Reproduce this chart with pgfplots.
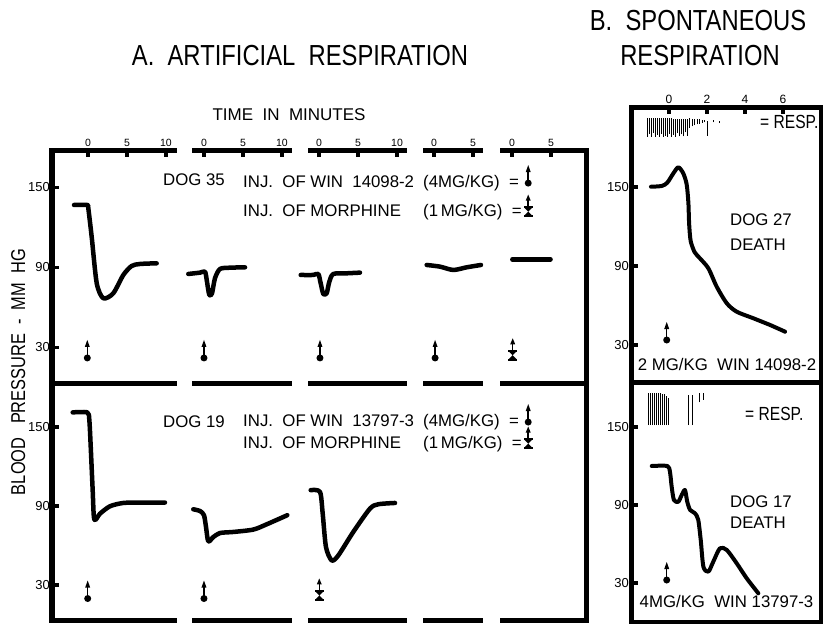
\documentclass[border=0pt]{standalone}
\usepackage{fontspec}
\setmainfont{Liberation Sans}
\newfontface\narrowfont[FakeStretch=0.82]{Liberation Sans}
\usepackage{pgfplots}
\pgfplotsset{compat=1.18}

\newcommand\bodyfont{\fontsize{16.8bp}{20bp}\selectfont}
\newcommand\titlefont{\fontsize{29bp}{32bp}\narrowfont}

% injection of WIN compound: dot with arrow
\pgfdeclareplotmark{inj}{%
  \pgfpathcircle{\pgfpointorigin}{3.5bp}\pgfusepathqfill
  \pgfsetlinewidth{1.5bp}%
  \pgfpathmoveto{\pgfpoint{0bp}{2bp}}\pgfpathlineto{\pgfpoint{0bp}{12bp}}\pgfusepathqstroke
  \pgfpathmoveto{\pgfpoint{-2.5bp}{11bp}}\pgfpathlineto{\pgfpoint{0bp}{18bp}}%
  \pgfpathlineto{\pgfpoint{2.5bp}{11bp}}\pgfpathclose\pgfusepathqfill
}
% injection of morphine: hourglass with arrow
\pgfdeclareplotmark{morph}{%
  \pgfpathmoveto{\pgfpoint{-4bp}{-4bp}}\pgfpathlineto{\pgfpoint{4bp}{-4bp}}%
  \pgfpathlineto{\pgfpoint{-4bp}{4bp}}\pgfpathlineto{\pgfpoint{4bp}{4bp}}\pgfpathclose\pgfusepathqfill
  \pgfpathrectangle{\pgfpoint{-4.5bp}{-5.5bp}}{\pgfpoint{9bp}{2bp}}\pgfusepathqfill
  \pgfpathrectangle{\pgfpoint{-4.5bp}{3.5bp}}{\pgfpoint{9bp}{2bp}}\pgfusepathqfill
  \pgfsetlinewidth{1.5bp}%
  \pgfpathmoveto{\pgfpoint{0bp}{5bp}}\pgfpathlineto{\pgfpoint{0bp}{12bp}}\pgfusepathqstroke
  \pgfpathmoveto{\pgfpoint{-2.5bp}{11bp}}\pgfpathlineto{\pgfpoint{0bp}{17bp}}%
  \pgfpathlineto{\pgfpoint{2.5bp}{11bp}}\pgfpathclose\pgfusepathqfill
}

\pgfplotsset{
  panel/.style={scale only axis, clip=false, anchor=south west,
    tick align=inside, major tick length=7bp,
    every tick/.style={black, line width=3.5bp},
    ticklabel style={font=\fontsize{13bp}{13bp}\selectfont},
    ytick={30,90,150}, yticklabels={30,90,150}, ytick pos=left,
    yticklabel style={inner sep=1bp, xshift=-1bp},
    xtick pos=right, xticklabel pos=right,
    xticklabel style={inner sep=1bp, yshift=2bp}},
  frame/.style={black, line width=5bp, line cap=rect, unbounded coords=jump, forget plot},
  bp/.style={black, line width=4.5bp, smooth, tension=0.45, line cap=round, line join=round, forget plot},
  resp/.style={black, line width=1bp, unbounded coords=jump, forget plot},
  injleg/.style={legend plot pos=right, legend cell align=left,
    legend style={draw=none, fill=none, anchor=north west, inner sep=0pt,
      font=\bodyfont, nodes={inner sep=2bp, text height=12bp, text depth=3bp}}},
}

\begin{document}
\begin{tikzpicture}[every node/.append style={inner sep=0pt}]
\useasboundingbox (0,0) rectangle (823bp,-624bp);

% ---------- A, top: dog 35 ----------
\begin{axis}[panel, injleg, at={(52bp,-383bp)}, width=534bp, height=233bp,
  xmin=-4.615, xmax=63.846, ymin=3.2, ymax=178,
  axis line style={draw=none},
  xtick={0,5,10,14.87,19.87,24.87,29.62,34.62,39.62,44.36,49.36,54.36,59.36},
  xticklabels={0,5,10,0,5,10,0,5,10,0,5,0,5},
  xticklabel style={font=\fontsize{10.5bp}{10.5bp}\selectfont},
  legend style={at={(axis description cs:0.354,0.936)}, row sep=2bp}]
\addplot[frame] coordinates {(-4.615,178)(11.09,178) (11.09,nan) (13.65,178)(25.83,178) (25.83,nan)
  (28.53,178)(40.58,178) (40.58,nan) (43.27,178)(50.32,178) (50.32,nan) (53.14,178)(63.846,178)};
\addplot[frame] coordinates {(-4.615,3.2)(11.09,3.2) (11.09,nan) (13.65,3.2)(25.83,3.2) (25.83,nan)
  (28.53,3.2)(40.58,3.2) (40.58,nan) (43.27,3.2)(50.32,3.2) (50.32,nan) (53.14,3.2)(63.846,3.2)};
\addplot[frame] coordinates {(-4.615,3.2)(-4.615,178) (-4.615,nan) (63.846,3.2)(63.846,178)};
\addplot[bp] coordinates {(-1.79,136.75) (-0.09,136.75) (0.04,134.3) (0.47,113) (1.12,78) (1.96,66.8)
  (3.24,70.5) (4.53,84.25) (5.6,91) (6.67,92.5) (8.8,93)};
\addplot[bp] coordinates {(12.86,85) (14.36,86) (15.0,86.7) (15.22,80.5) (15.55,69.25) (15.9,70.5)
  (16.28,81.8) (16.92,88.75) (18.2,89.7) (20.13,90)};
\addplot[bp] coordinates {(27.27,84.25) (28.88,84.25) (29.53,85) (29.83,78) (30.17,70) (30.6,70.5)
  (30.94,79.2) (31.45,85) (33.17,85.5) (34.87,86)};
\addplot[bp] coordinates {(43.42,91.75) (45.13,90.5) (46.83,88) (48.55,90) (50.38,91.75)};
\addplot[bp] coordinates {(54.4,96) (59.3,96)};
\addplot[black, only marks, mark=inj] coordinates {(-0.09,22) (14.87,22) (29.74,22) (44.5,22)};
\addlegendentry{\makebox[180bp][l]{INJ.\ \ OF WIN\ \ 14098-2}(4MG/KG)\ \ =}
\addplot[black, only marks, mark=morph] coordinates {(54.45,24)};
\addlegendentry{\makebox[180bp][l]{INJ.\ \ OF MORPHINE}(1\,MG/KG)\ \ =}
\end{axis}

% ---------- A, bottom: dog 19 ----------
\begin{axis}[panel, injleg, at={(52bp,-620bp)}, width=534bp, height=237bp,
  xmin=-4.615, xmax=63.846, ymin=3.4, ymax=183.2,
  axis line style={draw=none}, xtick=\empty,
  legend style={at={(axis description cs:0.354,0.912)}, row sep=-5bp}]
\addplot[frame] coordinates {(-4.615,3.4)(11.09,3.4) (11.09,nan) (13.65,3.4)(25.83,3.4) (25.83,nan)
  (28.53,3.4)(40.58,3.4) (40.58,nan) (43.27,3.4)(50.32,3.4) (50.32,nan) (53.14,3.4)(63.846,3.4)};
\addplot[frame] coordinates {(-4.615,3.4)(-4.615,183.2) (-4.615,nan) (63.846,3.4)(63.846,183.2)};
\addplot[bp] coordinates {(-1.96,160.9) (-0.09,160.9) (0.17,155.1) (0.35,134.8) (0.6,101.9) (0.81,79.6)
  (1.54,84.1) (2.82,89.7) (4.53,92.2) (6.67,92.5) (9.87,92.5)};
\addplot[bp] coordinates {(13.5,87.4) (14.36,86.1) (14.87,82.9) (15.13,74) (15.42,63.1) (16.06,66.3)
  (16.92,69.4) (18.63,70.2) (21.19,72) (22.91,76) (25.55,82.9)};
\addplot[bp] coordinates {(28.55,101.9) (29.74,100.6) (30.09,84.1) (30.51,58.7) (31.24,48.6) (32.09,52.4)
  (34.01,70.2) (36.15,87.9) (37.22,91.2) (39.36,92.2)};
\addplot[black, only marks, mark=inj] coordinates {(-0.04,19.7) (14.87,19.7)};
\addlegendentry{\makebox[180bp][l]{INJ.\ \ OF WIN\ \ 13797-3}(4MG/KG)\ \ =}
\addplot[black, only marks, mark=morph] coordinates {(29.65,22)};
\addlegendentry{\makebox[180bp][l]{INJ.\ \ OF MORPHINE}(1\,MG/KG)\ \ =}
\end{axis}

% ---------- B, top: dog 27 ----------
\begin{axis}[panel, at={(631bp,-382bp)}, width=190bp, height=275bp,
  xmin=-2, xmax=8, ymin=1.9, ymax=210.76,
  axis line style={line width=5bp},
  xtick={0,2,4,6}, xticklabels={0,2,4,6},
  xticklabel style={font=\fontsize{12bp}{12bp}\selectfont}]
\addplot[bp, line width=4bp] coordinates {(-0.95,150.2) (-0.38,150.8) (-0.09,153.3) (0.23,160.4) (0.49,165)
  (0.75,160.4) (0.93,152) (1.02,138) (1.06,122) (1.14,109) (1.35,100.5) (1.63,95.8) (2.07,88.3) (2.51,74.3)
  (3.04,61.7) (3.56,55.3) (4.44,50.3) (5.32,45.2) (6.11,40.1)};
\addplot[resp] coordinates {
  (-1.158,188.0)(-1.158,202.4) (-1.158,nan) (-1.053,190.5)(-1.053,202.4) (-1.053,nan)
  (-0.947,188.0)(-0.947,202.4) (-0.947,nan) (-0.842,191.0)(-0.842,202.4) (-0.842,nan)
  (-0.737,188.0)(-0.737,202.4) (-0.737,nan) (-0.632,189.5)(-0.632,202.4) (-0.632,nan)
  (-0.526,188.0)(-0.526,202.4) (-0.526,nan) (-0.421,190.5)(-0.421,202.4) (-0.421,nan)
  (-0.316,188.0)(-0.316,202.4) (-0.316,nan) (-0.211,189.0)(-0.211,202.4) (-0.211,nan)
  (-0.105,188.0)(-0.105,202.4) (-0.105,nan) (0.000,190.5)(0.000,202.4) (0.000,nan)
  (0.105,188.0)(0.105,202.4) (0.105,nan) (0.211,189.5)(0.211,202.0) (0.211,nan)
  (0.316,188.0)(0.316,202.0) (0.316,nan) (0.421,191.0)(0.421,202.0) (0.421,nan)
  (0.526,188.5)(0.526,202.0) (0.526,nan) (0.632,190.0)(0.632,202.0) (0.632,nan)
  (0.737,188.5)(0.737,201.5) (0.737,nan) (0.842,191.5)(0.842,201.5) (0.842,nan)
  (0.947,189.0)(0.947,201.5) (0.947,nan)
  (1.079,195.0)(1.079,202.4) (1.079,nan) (1.211,196.0)(1.211,202.0) (1.211,nan)
  (1.342,197.0)(1.342,202.0) (1.342,nan) (1.474,197.5)(1.474,201.5) (1.474,nan)
  (1.605,198.0)(1.605,201.5) (1.605,nan) (1.737,198.5)(1.737,201.0) (1.737,nan)
  (1.868,199.0)(1.868,201.0) (1.868,nan)
  (2.05,189.0)(2.05,200.1) (2.05,nan) (2.32,199.0)(2.32,201.0) (2.32,nan) (2.68,198.5)(2.68,200.5)};
\addplot[black, only marks, mark=inj] coordinates {(-0.12,33.8)};
\end{axis}

% ---------- B, bottom: dog 17 ----------
\begin{axis}[panel, at={(631bp,-622bp)}, width=190bp, height=240bp,
  xmin=-2, xmax=8, ymin=0, ymax=184.6,
  axis line style={line width=5bp}, xtick=\empty]
\addplot[bp, line width=4bp] coordinates {(-0.91,120) (-0.09,120) (0.05,115.6) (0.14,104.1) (0.26,93.8)
  (0.49,92.5) (0.67,97.7) (0.84,101.5) (0.96,92.5) (1.11,86.2) (1.37,83.6) (1.54,78.5) (1.67,63.1)
  (1.81,42.5) (2.07,38.7) (2.33,46.4) (2.68,56.7) (3.04,55.4) (3.56,45.2) (4.09,33.6) (4.7,22.1)};
\addplot[resp] coordinates {
  (-1.105,151.5)(-1.105,176.2) (-1.105,nan) (-1.000,151.5)(-1.000,176.2) (-1.000,nan)
  (-0.895,151.5)(-0.895,176.2) (-0.895,nan) (-0.789,151.5)(-0.789,176.2) (-0.789,nan)
  (-0.684,151.5)(-0.684,176.2) (-0.684,nan) (-0.579,151.5)(-0.579,176.2) (-0.579,nan)
  (-0.474,151.5)(-0.474,176.2) (-0.474,nan) (-0.368,151.5)(-0.368,175.5) (-0.368,nan)
  (-0.263,151.5)(-0.263,175.5) (-0.263,nan) (-0.158,151.5)(-0.158,174.0) (-0.158,nan)
  (-0.053,151.5)(-0.053,172.0) (-0.053,nan)
  (1.00,151.5)(1.00,174.6) (1.00,nan) (1.21,151.5)(1.21,174.6) (1.21,nan)
  (1.63,169.0)(1.63,176.0) (1.63,nan) (1.79,171.0)(1.79,176.0)};
\addplot[black, only marks, mark=inj] coordinates {(-0.12,32.3)};
\end{axis}

% ---------- titles and lettering ----------
\node[anchor=base, font=\titlefont] at (300bp,-65bp) {A.\ \ ARTIFICIAL\ \ RESPIRATION};
\node[anchor=base, font=\titlefont] at (698bp,-30bp) {B.\ \ SPONTANEOUS};
\node[anchor=base, font=\titlefont] at (700bp,-65bp) {RESPIRATION};
\node[anchor=base, font=\fontsize{17bp}{20bp}\selectfont] at (289bp,-120bp) {TIME\ \ IN\ \ MINUTES};
\node[anchor=base, rotate=90, font=\fontsize{20bp}{22bp}\narrowfont] at (25bp,-372bp)
  {BLOOD\ \ \ PRESSURE\ \ -\ \ MM\ \ HG};
\node[anchor=base west, font=\bodyfont] at (163bp,-185bp) {DOG 35};
\node[anchor=base west, font=\bodyfont] at (163bp,-427bp) {DOG 19};
\node[anchor=base, font=\bodyfont] at (761bp,-225bp) {DOG 27};
\node[anchor=base, font=\bodyfont] at (758bp,-250bp) {DEATH};
\node[anchor=base, font=\bodyfont] at (727bp,-370bp) {2 MG/KG\ \ WIN 14098-2};
\node[anchor=base, font=\bodyfont] at (761bp,-507bp) {DOG 17};
\node[anchor=base, font=\bodyfont] at (758bp,-528bp) {DEATH};
\node[anchor=base, font=\bodyfont] at (726.5bp,-607bp) {4MG/KG\ \ WIN 13797-3};
\node[anchor=base west, font=\fontsize{19bp}{20bp}\narrowfont] at (760bp,-128bp) {= RESP.};
\node[anchor=base west, font=\fontsize{19bp}{20bp}\narrowfont] at (745bp,-420bp) {= RESP.};
\end{tikzpicture}
\end{document}
